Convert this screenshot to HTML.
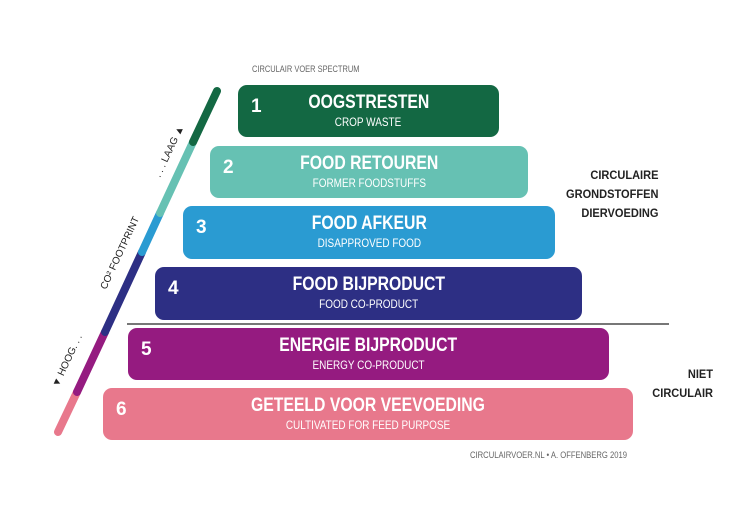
<!DOCTYPE html>
<html><head><style>
body{margin:0;width:750px;height:517px;background:#fff;overflow:hidden;position:relative;font-family:"Liberation Sans",sans-serif;}
.b{position:absolute;border-radius:9px;color:#fff;text-align:center}
.b .n{position:absolute;left:13px;top:11px;font-size:19px;font-weight:bold}
.b .t{font-size:19px;font-weight:bold;margin-top:8px;line-height:20px}
.b .s{font-size:12px;line-height:14px;margin-top:2px}
.b .t span,.b .s span{display:inline-block;transform:scaleX(0.83)}
.g{position:absolute;color:#222;font-size:12px;font-weight:bold;line-height:19px}
</style></head><body>
<div style="position:absolute;left:252px;top:64px;font-size:9px;color:#666;transform:scaleX(0.83);transform-origin:0 0">CIRCULAIR VOER SPECTRUM</div>
<div class="b" style="left:238px;top:85px;width:261px;height:52px;background:#136843"><span class="n">1</span><div class="t"><span>OOGSTRESTEN</span></div><div class="s"><span>CROP WASTE</span></div></div>
<div class="b" style="left:210px;top:146px;width:318px;height:52px;background:#66c1b3"><span class="n">2</span><div class="t"><span>FOOD RETOUREN</span></div><div class="s"><span>FORMER FOODSTUFFS</span></div></div>
<div class="b" style="left:183px;top:206px;width:372px;height:53px;background:#2a9bd2"><span class="n">3</span><div class="t"><span>FOOD AFKEUR</span></div><div class="s"><span>DISAPPROVED FOOD</span></div></div>
<div class="b" style="left:155px;top:267px;width:427px;height:53px;background:#2d2f84"><span class="n">4</span><div class="t"><span>FOOD BIJPRODUCT</span></div><div class="s"><span>FOOD CO-PRODUCT</span></div></div>
<div style="position:absolute;left:127px;top:323px;width:542px;height:2px;background:#777"></div>
<div class="b" style="left:128px;top:328px;width:481px;height:52px;background:#951b80"><span class="n">5</span><div class="t"><span>ENERGIE BIJPRODUCT</span></div><div class="s"><span>ENERGY CO-PRODUCT</span></div></div>
<div class="b" style="left:103px;top:388px;width:530px;height:52px;background:#e8788c"><span class="n">6</span><div class="t"><span>GETEELD VOOR VEEVOEDING</span></div><div class="s"><span>CULTIVATED FOR FEED PURPOSE</span></div></div>
<div class="g" style="right:92px;top:166px;text-align:right;transform:scaleX(0.92);transform-origin:100% 0">CIRCULAIRE<br>GRONDSTOFFEN<br>DIERVOEDING</div>
<div class="g" style="right:37px;top:365px;text-align:right;transform:scaleX(0.92);transform-origin:100% 0">NIET<br>CIRCULAIR</div>
<div style="position:absolute;left:470px;top:450px;font-size:9px;color:#666;transform:scaleX(0.85);transform-origin:0 0;white-space:nowrap">CIRCULAIRVOER.NL • A. OFFENBERG 2019</div>
<svg style="position:absolute;left:0;top:0" width="750" height="517">
<g stroke-width="8" stroke-linecap="round">
<line x1="58" y1="432" x2="77" y2="392" stroke="#e8788c"/>
<line x1="77" y1="392" x2="105" y2="332" stroke="#951b80"/>
<line x1="105" y1="332" x2="142" y2="252" stroke="#2d2f84"/>
<line x1="142" y1="252" x2="160" y2="213" stroke="#2a9bd2"/>
<line x1="160" y1="213" x2="193" y2="142" stroke="#66c1b3"/>
<line x1="193" y1="142" x2="217" y2="91" stroke="#136843"/>
</g>
<g font-family="Liberation Sans, sans-serif" font-size="10" fill="#222">
<text transform="translate(106,290) rotate(-65)">CO² FOOTPRINT</text>
<text transform="translate(160,178) rotate(-65)">. . . LAAG ▲</text>
<text transform="translate(58,388) rotate(-65)">▼ HOOG. . .</text>
</g>
</svg>
</body></html>
